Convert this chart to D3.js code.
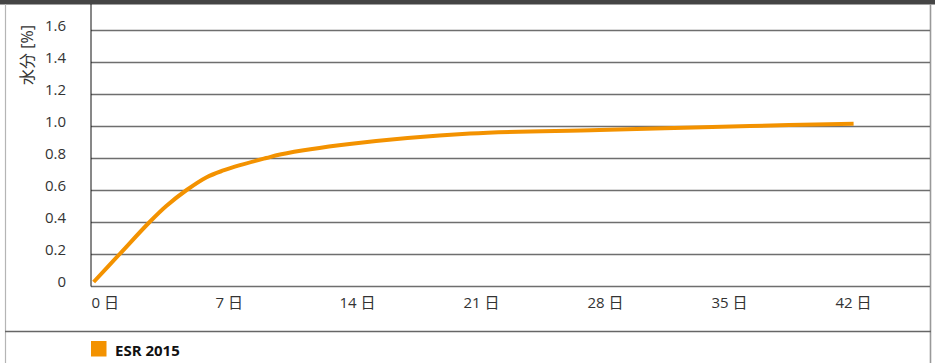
<!DOCTYPE html>
<html>
<head>
<meta charset="utf-8">
<script src="https://cdn.jsdelivr.net/npm/d3@7/dist/d3.min.js"></script>
<style>
  html, body { margin: 0; padding: 0; background: #fff; }
  svg { display: block; }
  text { font-family: "Open Sans", "Noto Sans CJK JP", sans-serif; }
</style>
</head>
<body>
<svg id="chart" width="935" height="363"></svg>
<script>
// Moisture uptake of ESR 2015 over time
const seriesName = "ESR 2015";
const days =     [0.15,  1.62, 3.31, 4.25, 5.4,  6.53, 7.47,  8.41,  9.9, 10.67, 14.6,   21.4,  28.7,  37.2, 43.05];
const moisture = [0.025, 0.2,  0.4,  0.5,  0.6,  0.68, 0.722, 0.755, 0.8, 0.822, 0.8875, 0.953, 0.975, 1.0,  1.014];
const xTicks = [0, 7, 14, 21, 28, 35, 42];
const yTicks = [0, 0.2, 0.4, 0.6, 0.8, 1.0, 1.2, 1.4, 1.6];
const yTitle = "水分 [%]";

const svg = d3.select("#chart");
const W = 935, H = 363;

const x = d3.scaleLinear().domain([0, 42]).range([91, 835]);
const y = d3.scaleLinear().domain([0, 1.6]).range([286, 30]);

// frame
svg.append("rect").attr("x", 0).attr("y", 0).attr("width", W).attr("height", 4.5).attr("fill", "#454545");
svg.append("line").attr("x1", 5.5).attr("x2", 5.5).attr("y1", 4).attr("y2", H)
  .attr("stroke", "#b5b5b5").attr("stroke-width", 1.2);
svg.append("line").attr("x1", 930.5).attr("x2", 930.5).attr("y1", 4).attr("y2", H)
  .attr("stroke", "#999").attr("stroke-width", 1.6);
svg.append("line").attr("x1", 5).attr("x2", 931).attr("y1", 331.5).attr("y2", 331.5)
  .attr("stroke", "#666").attr("stroke-width", 1.6);

// horizontal gridlines with labels resting on them
const yAxis = d3.axisLeft(y).tickValues(yTicks)
  .tickFormat(d => d === 0 ? "0" : d3.format(".1f")(d))
  .tickSize(-(930 - 91)).tickPadding(0);
const gy = svg.append("g").attr("transform", "translate(91,0)").call(yAxis);
gy.select(".domain").remove();
gy.selectAll(".tick line").attr("stroke", "#6e6e6e").attr("stroke-width", 1.5);
gy.selectAll(".tick text")
  .attr("x", -25).attr("dy", 0).attr("y", 0)
  .attr("fill", "#333").attr("font-size", 15).attr("text-anchor", "end");

// vertical axis line
svg.append("line").attr("x1", 91).attr("x2", 91).attr("y1", 4).attr("y2", 286.5)
  .attr("stroke", "#111").attr("stroke-width", 1);

// x tick labels
const xAxis = d3.axisBottom(x).tickValues(xTicks).tickFormat(d => d + " 日").tickSize(0).tickPadding(0);
const gx = svg.append("g").attr("transform", "translate(0,286)").call(xAxis);
gx.select(".domain").remove();
gx.selectAll(".tick text")
  .attr("y", 22).attr("dy", 0).attr("text-anchor", "start")
  .attr("fill", "#333").attr("font-size", 15);

// axis title
svg.append("text")
  .attr("transform", "translate(33,55) rotate(-90)")
  .attr("text-anchor", "middle")
  .attr("fill", "#333").attr("font-size", 16)
  .text(yTitle);

// series curve
const line = d3.line()
  .x((d, i) => x(days[i]))
  .y((d, i) => y(moisture[i]))
  .curve(d3.curveCatmullRom.alpha(0.5));
svg.append("path")
  .datum(moisture)
  .attr("d", line)
  .attr("fill", "none")
  .attr("stroke", "#f39200")
  .attr("stroke-width", 4);

// legend
svg.append("rect").attr("x", 91).attr("y", 341).attr("width", 15.5).attr("height", 15.5).attr("fill", "#f39200");
svg.append("text").attr("x", 115).attr("y", 356)
  .attr("font-size", 15).attr("font-weight", "bold").attr("fill", "#111")
  .text(seriesName);
</script>
</body>
</html>
